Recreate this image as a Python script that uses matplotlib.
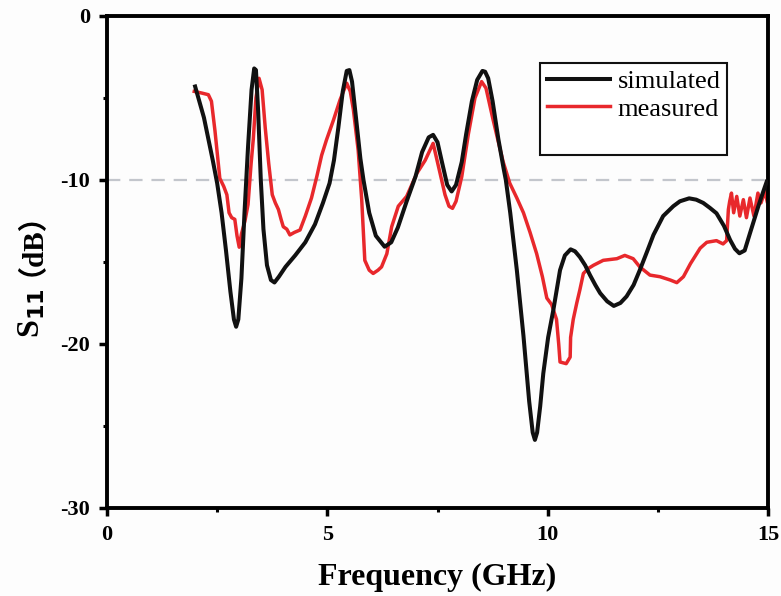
import matplotlib
matplotlib.use('Agg')
import matplotlib.pyplot as plt
from matplotlib.lines import Line2D
from matplotlib.ticker import MultipleLocator

plt.rcParams['axes.unicode_minus'] = False

# simulated S11 (black)
sim_freq = [2.0, 2.2, 2.4, 2.5, 2.6, 2.7, 2.8, 2.88, 2.93, 2.98, 3.05, 3.12, 3.2, 3.28,
            3.34, 3.38, 3.43, 3.49, 3.55, 3.63, 3.72, 3.80, 3.9, 4.05, 4.27, 4.5, 4.72,
            4.9, 5.05, 5.15, 5.25, 5.35, 5.44, 5.5, 5.56, 5.65, 5.75, 5.82, 5.95, 6.1,
            6.3, 6.45, 6.6, 6.8, 7.0, 7.15, 7.3, 7.4, 7.5, 7.6, 7.72, 7.82, 7.92, 8.05,
            8.15, 8.28, 8.4, 8.52, 8.58, 8.65, 8.75, 8.88, 9.0, 9.05, 9.15, 9.3, 9.45,
            9.58, 9.66, 9.71, 9.76, 9.83, 9.90, 10.01, 10.13, 10.28, 10.39, 10.52,
            10.62, 10.73, 10.85, 10.96, 11.08, 11.19, 11.35, 11.50, 11.65, 11.79,
            11.95, 12.09, 12.25, 12.40, 12.62, 12.85, 13.0, 13.21, 13.37, 13.53,
            13.68, 13.83, 14.0, 14.14, 14.25, 14.35, 14.47, 14.59, 14.7, 14.78,
            14.88, 14.97]
sim_db = [-4.3, -6.2, -8.8, -10.2, -12.0, -14.3, -16.8, -18.5, -18.95, -18.5, -16.0,
          -12.0, -8.0, -4.5, -3.2, -3.3, -5.8, -10.0, -13.0, -15.2, -16.1, -16.25,
          -15.9, -15.3, -14.6, -13.8, -12.7, -11.4, -10.2, -8.8, -6.8, -4.6, -3.35,
          -3.3, -4.0, -6.2, -8.7, -10.0, -12.0, -13.4, -14.07, -13.8, -12.9, -11.3,
          -9.8, -8.3, -7.4, -7.25, -7.7, -8.9, -10.3, -10.7, -10.3, -8.9, -7.2,
          -5.2, -3.9, -3.35, -3.4, -3.8, -5.2, -7.5, -9.3, -10.0, -12.0, -15.5,
          -19.5, -23.5, -25.4, -25.85, -25.4, -23.8, -21.8, -19.6, -17.9, -15.5,
          -14.6, -14.23, -14.35, -14.7, -15.2, -15.8, -16.4, -16.9, -17.4, -17.68,
          -17.5, -17.1, -16.4, -15.5, -14.4, -13.35, -12.2, -11.6, -11.3, -11.12,
          -11.2, -11.4, -11.7, -12.03, -12.8, -13.66, -14.2, -14.47, -14.3, -13.25,
          -12.3, -11.6, -10.8, -10.1]

# measured S11 (red)
meas_freq = [1.98, 2.15, 2.30, 2.37, 2.45, 2.56, 2.65, 2.72, 2.77, 2.83, 2.90, 2.95,
             3.0, 3.05, 3.13, 3.2, 3.27, 3.32, 3.38, 3.45, 3.52, 3.59, 3.67, 3.75,
             3.82, 3.89, 3.95, 4.00, 4.08, 4.15, 4.25, 4.38, 4.5, 4.64, 4.76, 4.87,
             4.98, 5.14, 5.29, 5.44, 5.52, 5.59, 5.70, 5.78, 5.85, 5.95, 6.04, 6.15,
             6.23, 6.35, 6.46, 6.61, 6.80, 7.03, 7.22, 7.40, 7.55, 7.67, 7.76, 7.84,
             7.92, 8.05, 8.2, 8.35, 8.5, 8.6, 8.75, 8.9, 8.99, 9.14, 9.3, 9.45, 9.6,
             9.75, 9.88, 9.98, 10.09, 10.20, 10.25, 10.28, 10.42, 10.51, 10.52, 10.58,
             10.66, 10.73, 10.81, 10.92, 11.04, 11.26, 11.57, 11.75, 11.94, 12.09,
             12.32, 12.55, 12.78, 12.93, 13.08, 13.24, 13.46, 13.61, 13.83, 13.98,
             14.06, 14.10, 14.13, 14.17, 14.22, 14.29, 14.36, 14.44, 14.51, 14.59,
             14.68, 14.77, 14.84, 14.93, 14.98]
meas_db = [-4.6, -4.7, -4.8, -5.2, -7.0, -9.9, -10.4, -10.9, -12.0, -12.3, -12.4,
           -13.4, -14.1, -13.3, -12.5, -11.5, -9.0, -7.5, -5.0, -3.8, -4.5, -6.8,
           -9.0, -10.9, -11.4, -11.8, -12.4, -12.85, -13.0, -13.35, -13.2, -13.05,
           -12.2, -11.1, -9.8, -8.5, -7.56, -6.34, -5.1, -4.1, -4.6, -5.7, -8.2,
           -11.2, -14.9, -15.5, -15.7, -15.5, -15.3, -14.5, -12.85, -11.6, -11.0,
           -9.6, -8.8, -7.77, -9.5, -10.9, -11.6, -11.73, -11.3, -9.8, -7.2, -5.0,
           -4.0, -4.4, -6.2, -7.9, -8.9, -10.2, -11.1, -12.0, -13.2, -14.5, -15.9,
           -17.2, -17.6, -18.5, -20.0, -21.1, -21.2, -20.8, -19.6, -18.5, -17.5,
           -16.7, -15.7, -15.4, -15.2, -14.9, -14.8, -14.6, -14.8, -15.3, -15.8,
           -15.9, -16.1, -16.26, -15.9, -15.1, -14.16, -13.8, -13.7, -13.9, -13.7,
           -11.8, -11.3, -10.8, -12.0, -11.0, -12.2, -11.2, -12.3, -11.1, -12.2,
           -10.8, -11.4, -10.7, -11.3]

x_ticks = [0, 5, 10, 15]
y_ticks = [0, -10, -20, -30]
threshold = -10

serif = ['Liberation Serif', 'Noto Sans CJK SC']

fig = plt.figure(figsize=(7.81, 5.96), dpi=100)
fig.patch.set_facecolor('#fdfdfd')
ax = fig.add_axes([0.137, 0.1477, 0.8464, 0.8255])
ax.set_facecolor('#fdfdfd')

ax.axhline(threshold, color='#c3c6cc', linestyle=(0, (6, 4)), linewidth=1.6, zorder=1)
ax.plot(sim_freq, sim_db, color='#111111', linewidth=2.9, label='simulated', zorder=3)
ax.plot(meas_freq, meas_db, color='#e8282c', linewidth=2.5, label='measured', zorder=2)

ax.set_xlim(0, 15)
ax.set_ylim(-30, 0)
ax.set_xticks(x_ticks)
ax.set_yticks(y_ticks)
ax.xaxis.set_minor_locator(MultipleLocator(2.5))
ax.yaxis.set_minor_locator(MultipleLocator(5))
ax.tick_params(which='major', direction='out', length=6, width=2.5, pad=6)
ax.tick_params(which='minor', direction='out', length=3, width=2.2)
for lab in ax.get_xticklabels() + ax.get_yticklabels():
    lab.set_family(serif)
    lab.set_fontweight('bold')
    lab.set_fontsize(16)
for sp in ax.spines.values():
    sp.set_linewidth(2.8)

ax.set_xlabel('Frequency (GHz)', family=serif, fontweight='bold', fontsize=23, labelpad=13)

# y label: subscript part and full-width brackets drawn as two pieces
ax.text(-0.102, 0.447, 'S$_\\mathbf{11}$', transform=ax.transAxes, rotation=90,
        rotation_mode='anchor', ha='right', va='baseline', family=serif,
        fontweight='bold', fontsize=23)
ax.text(-0.125, 0.471, '（dB）', transform=ax.transAxes, rotation=90,
        rotation_mode='anchor', ha='left', va='baseline', family=serif,
        fontweight='bold', fontsize=21)

handles, labels = ax.get_legend_handles_labels()
handles.append(Line2D([], [], color='none'))
labels.append(' ')
leg = ax.legend(handles, labels, loc='upper left', bbox_to_anchor=(0.655, 0.904),
                borderaxespad=0, fancybox=False, edgecolor='#111111', framealpha=1,
                prop={'family': serif, 'size': 19}, handlelength=2.4, labelspacing=0.15,
                handletextpad=0.3, borderpad=0.25)
leg.get_frame().set_linewidth(1.5)

fig.savefig('out.png', dpi=100, facecolor=fig.get_facecolor())
